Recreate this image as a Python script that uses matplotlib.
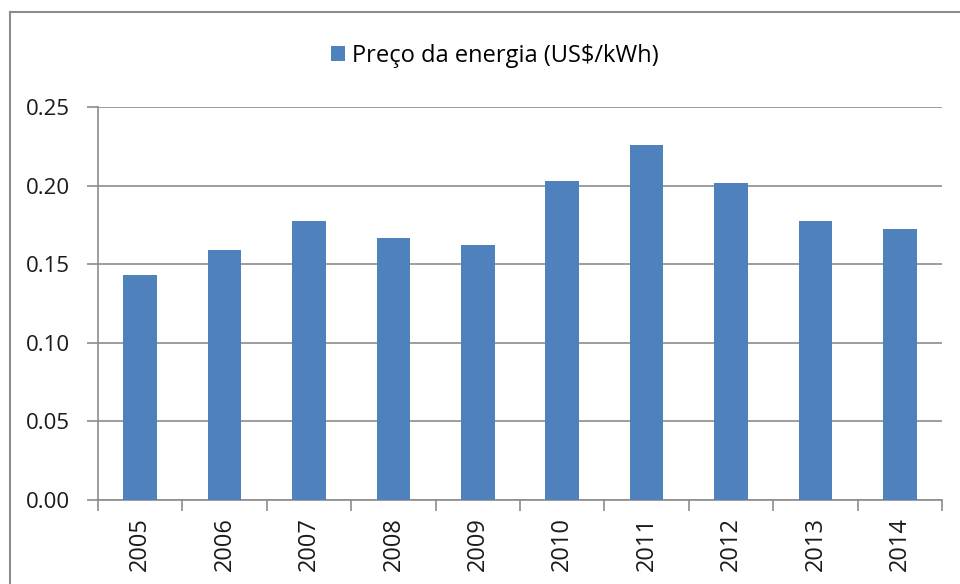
import matplotlib.pyplot as plt
import numpy as np
from matplotlib.lines import Line2D

# Datos
years = ["2005", "2006", "2007", "2008", "2009", "2010", "2011", "2012", "2013", "2014"]
prices = [0.143, 0.159, 0.1775, 0.1667, 0.162, 0.203, 0.226, 0.2017, 0.1775, 0.1725]
y_ticks = [0.00, 0.05, 0.10, 0.15, 0.20, 0.25]

plt.rcParams['font.family'] = ['Open Sans', 'DejaVu Sans']

fig = plt.figure(figsize=(9.6, 5.84), dpi=100)
ax = fig.add_axes([98 / 960, 1 - 500 / 584, (942 - 98) / 960, (500 - 107) / 584])

x = np.arange(len(years))
ax.bar(x, prices, width=0.4, color="#4F81BD", zorder=3, label="Preço da energia (US$/kWh)")

ax.set_xlim(-0.5, len(years) - 0.5)
ax.set_ylim(0, 0.25)
ax.set_yticks(y_ticks)
ax.set_yticklabels(["{:.2f}".format(v) for v in y_ticks], fontsize=16, color="#1a1a1a")
ax.set_xticks(x)
ax.set_xticklabels(years, rotation=90, fontsize=17, color="#1a1a1a")
ax.tick_params(axis="x", length=0, pad=12)
ax.tick_params(axis="y", length=8, width=1.2, color="#8c8c8c", pad=12)

# ticks entre categorias
ax.set_xticks(np.arange(-0.5, len(years), 1), minor=True)
ax.tick_params(axis="x", which="minor", length=8, width=1.2, color="#8c8c8c")

ax.grid(axis="y", color="#8c8c8c", linewidth=1.2, zorder=0)
for s in ["top", "right"]:
    ax.spines[s].set_visible(False)
for s in ["left", "bottom"]:
    ax.spines[s].set_color("#8c8c8c")
    ax.spines[s].set_linewidth(1.2)

fig.legend(loc="center", bbox_to_anchor=(495 / 960, 1 - 56 / 584), frameon=False,
           fontsize=17, handlelength=0.6, handleheight=0.6, handletextpad=0.3)

# Borde del gráfico
fig.add_artist(Line2D([10 / 960, 10 / 960], [0, 1 - 12 / 584], color="#8c8c8c", linewidth=1.5))
fig.add_artist(Line2D([10 / 960, 1], [1 - 12 / 584, 1 - 12 / 584], color="#8c8c8c", linewidth=1.5))

fig.savefig("out.png", dpi=100)
